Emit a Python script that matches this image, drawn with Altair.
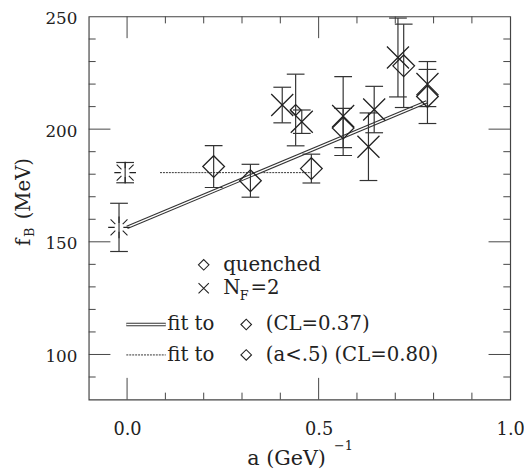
import altair as alt
import pandas as pd

# ---- data ----
# quenched (open diamonds)
q_x = [0.226, 0.322, 0.481, 0.564, 0.722, 0.784]
q_y = [183.4, 177.1, 182.5, 200.5, 228.1, 214.5]
q_err = [9.3, 7.3, 6.4, 8.7, 18.5, 12.0]
# quenched, small diamond
qs_x = [0.440]
qs_y = [208.5]
qs_err = [15.9]
# N_F = 2 (crosses)
nf_x = [0.405, 0.456, 0.564, 0.630, 0.645, 0.707, 0.784]
nf_y = [210.7, 203.3, 205.8, 192.2, 208.7, 231.8, 220.0]
nf_err = [7.9, 5.2, 17.5, 15.0, 10.3, 17.5, 10.0]
# extrapolated values at a = 0 (burst symbols)
ext_x = [-0.005, -0.021]
ext_y = [180.7, 156.4]
ext_err = [4.5, 10.7]
# fits
fit_all_x = [0.0, 0.782]
fit_all_y = [156.4, 212.1]
fit_lt5_x = [0.086, 0.481]
fit_lt5_y = [180.7, 180.7]
# axes
x_labels = [0.0, 0.5, 1.0]
y_labels = [100, 150, 200, 250]
x_major = [0.0, 0.5]
x_minor = [0.1, 0.2, 0.3, 0.4, 0.6, 0.7, 0.8, 0.9]
y_major = [100, 150, 200]
y_minor = [90, 110, 120, 130, 140, 160, 170, 180, 190, 210, 220, 230, 240]

W, H = 428, 389
FONT = "DejaVu Serif"
INK = "#222222"
MAJ, MIN = 22, 7

X = alt.Scale(domain=[-0.1, 1.0], nice=False, zero=False)
Y = alt.Scale(domain=[80, 250], nice=False, zero=False)

XAX = alt.Axis(values=x_labels, format=".1f", ticks=False, tickSize=0, domain=False,
               grid=False, title=None, labelFont=FONT, labelFontSize=18, labelColor=INK,
               labelBaseline="alphabetic", labelPadding=35, labelFlush=False,
               labelOverlap=False)
YAX = alt.Axis(values=y_labels, format="d", ticks=False, tickSize=0, domain=False,
               grid=False, title=None, labelFont=FONT, labelFontSize=17, labelColor=INK,
               labelBaseline="alphabetic", labelOffset=7, labelPadding=12,
               labelFlush=False, labelOverlap=False)

CROSS = "M-1,-1L1,1M-1,1L1,-1"
BURST = ("M-1,0L-0.4,0M0.4,0L1,0M0,-1L0,-0.4M0,0.4L0,1"
         "M-0.78,-0.74L-0.34,-0.3M0.34,0.3L0.78,0.74"
         "M-0.78,0.74L-0.34,0.3M0.34,-0.3L0.78,-0.74")


def errdf(xs, ys, es):
    return pd.DataFrame({"x": xs, "y": ys,
                         "lo": [a - b for a, b in zip(ys, es)],
                         "hi": [a + b for a, b in zip(ys, es)]})


err_all = pd.concat([errdf(q_x, q_y, q_err), errdf(qs_x, qs_y, qs_err),
                     errdf(nf_x, nf_y, nf_err), errdf(ext_x, ext_y, ext_err)])

xe = alt.X("x:Q", scale=X, axis=XAX)


def ye(field):
    return alt.Y(field, type="quantitative", scale=Y, axis=YAX)


bars = alt.Chart(err_all).mark_rule(color="#333", strokeWidth=1.2).encode(
    x=xe, y=ye("lo"), y2="hi:Q")
cap_lo = alt.Chart(err_all).mark_tick(orient="horizontal", size=18, thickness=1.2,
                                      color="#333", opacity=1).encode(x=xe, y=ye("lo"))
cap_hi = alt.Chart(err_all).mark_tick(orient="horizontal", size=18, thickness=1.2,
                                      color="#333", opacity=1).encode(x=xe, y=ye("hi"))


def pts(xs, ys, shape, size, sw=1.3):
    return alt.Chart(pd.DataFrame({"x": xs, "y": ys})).mark_point(
        shape=shape, size=size, filled=False, color=INK, strokeWidth=sw, opacity=1
    ).encode(x=xe, y=ye("y"))


diam = pts(q_x, q_y, "diamond", 484)
diam_s = pts(qs_x, qs_y, "diamond", 121)
cross = pts(nf_x, nf_y, CROSS, 500)
burst = pts(ext_x, ext_y, BURST, 484, 1.1)

fit_df = pd.DataFrame({"x": fit_all_x, "y": fit_all_y})
fit_outer = alt.Chart(fit_df).mark_line(color="#333", strokeWidth=3.6).encode(x=xe, y=ye("y"))
fit_inner = alt.Chart(fit_df).mark_line(color="white", strokeWidth=1.4).encode(x=xe, y=ye("y"))
fit2 = alt.Chart(pd.DataFrame({"x": fit_lt5_x, "y": fit_lt5_y})).mark_line(
    color="#333", strokeWidth=1, strokeDash=[2, 1]).encode(x=xe, y=ye("y"))

# ---- legend (inside the plot) ----
leg_dbl = pd.DataFrame({"x": [-0.002, 0.101], "y": [113.3, 113.3]})
leg_dot = pd.DataFrame({"x": [-0.002, 0.101], "y": [99.8, 99.8]})
leg_l1 = alt.Chart(leg_dbl).mark_line(color="#333", strokeWidth=3.6).encode(x=xe, y=ye("y"))
leg_l1w = alt.Chart(leg_dbl).mark_line(color="white", strokeWidth=1.4).encode(x=xe, y=ye("y"))
leg_l2 = alt.Chart(leg_dot).mark_line(color="#333", strokeWidth=1,
                                      strokeDash=[2, 1]).encode(x=xe, y=ye("y"))
leg_d = pts([0.200, 0.311, 0.311], [139.8, 113.3, 99.8], "diamond", 115, 1.1)
leg_c = pts([0.200], [129.4], CROSS, 110, 1.1)

leg_text = pd.DataFrame({
    "x": [0.251, 0.251, 0.105, 0.362, 0.105, 0.362, 0.322],
    "y": [139.6, 129.4, 113.3, 113.3, 99.8, 99.8, 129.4],
    "t": ["quenched", "N", "fit to", "(CL=0.37)", "fit to", "(a<.5) (CL=0.80)", "=2"],
})
leg_t = alt.Chart(leg_text).mark_text(align="left", baseline="middle", font=FONT,
                                      fontSize=20, color=INK).encode(
    x=xe, y=ye("y"), text="t:N")
leg_sub = alt.Chart(pd.DataFrame({"x": [0.294], "y": [126.0], "t": ["F"]})).mark_text(
    align="left", baseline="middle", font=FONT, fontSize=13, color=INK).encode(
    x=xe, y=ye("y"), text="t:N")


# ---- frame ticks (inward) ----
def vticks(vals, L):
    d = pd.DataFrame({"x": vals})
    b = alt.Chart(d).mark_rule(color="#444", strokeWidth=1).encode(
        x=xe, y=alt.value(H), y2=alt.value(H - L))
    t = alt.Chart(d).mark_rule(color="#444", strokeWidth=1).encode(
        x=xe, y=alt.value(0), y2=alt.value(L))
    return b + t


def hticks(vals, L):
    d = pd.DataFrame({"y": vals})
    l = alt.Chart(d).mark_rule(color="#444", strokeWidth=1).encode(
        y=ye("y"), x=alt.value(0), x2=alt.value(L))
    r = alt.Chart(d).mark_rule(color="#444", strokeWidth=1).encode(
        y=ye("y"), x=alt.value(W), x2=alt.value(W - L))
    return l + r


# ---- axis titles ----
def tx(t, x, y, size=20, angle=0):
    kw = dict(align="left", baseline="alphabetic", font=FONT, fontSize=size, color=INK)
    if angle:
        kw["angle"] = angle
    return alt.Chart(pd.DataFrame({"t": [t]})).mark_text(**kw).encode(
        x=alt.value(x), y=alt.value(y), text="t:N")


titles = (tx("f", -60, 233, 20, 270) + tx("B", -56, 224, 13, 270) +
          tx("(MeV)", -60, 206, 20, 270) +
          tx("a (GeV)", 161, 455, 21) + tx("\u22121", 249, 440, 13))

chart = alt.layer(
    vticks(x_major, MAJ), vticks(x_minor, MIN), hticks(y_major, MAJ), hticks(y_minor, MIN),
    fit2, fit_outer, fit_inner, bars, cap_lo, cap_hi, diam, diam_s, cross, burst,
    leg_l1, leg_l1w, leg_l2, leg_d, leg_c, leg_t, leg_sub, titles,
).properties(
    width=W, height=H,
    autosize=alt.AutoSizeParams(type="none"),
    padding={"left": 82, "top": 5, "right": 14, "bottom": 72},
).configure_view(stroke="#444", strokeWidth=1.2)

chart.save("out.html", embed_options={"renderer": "svg", "actions": False})
